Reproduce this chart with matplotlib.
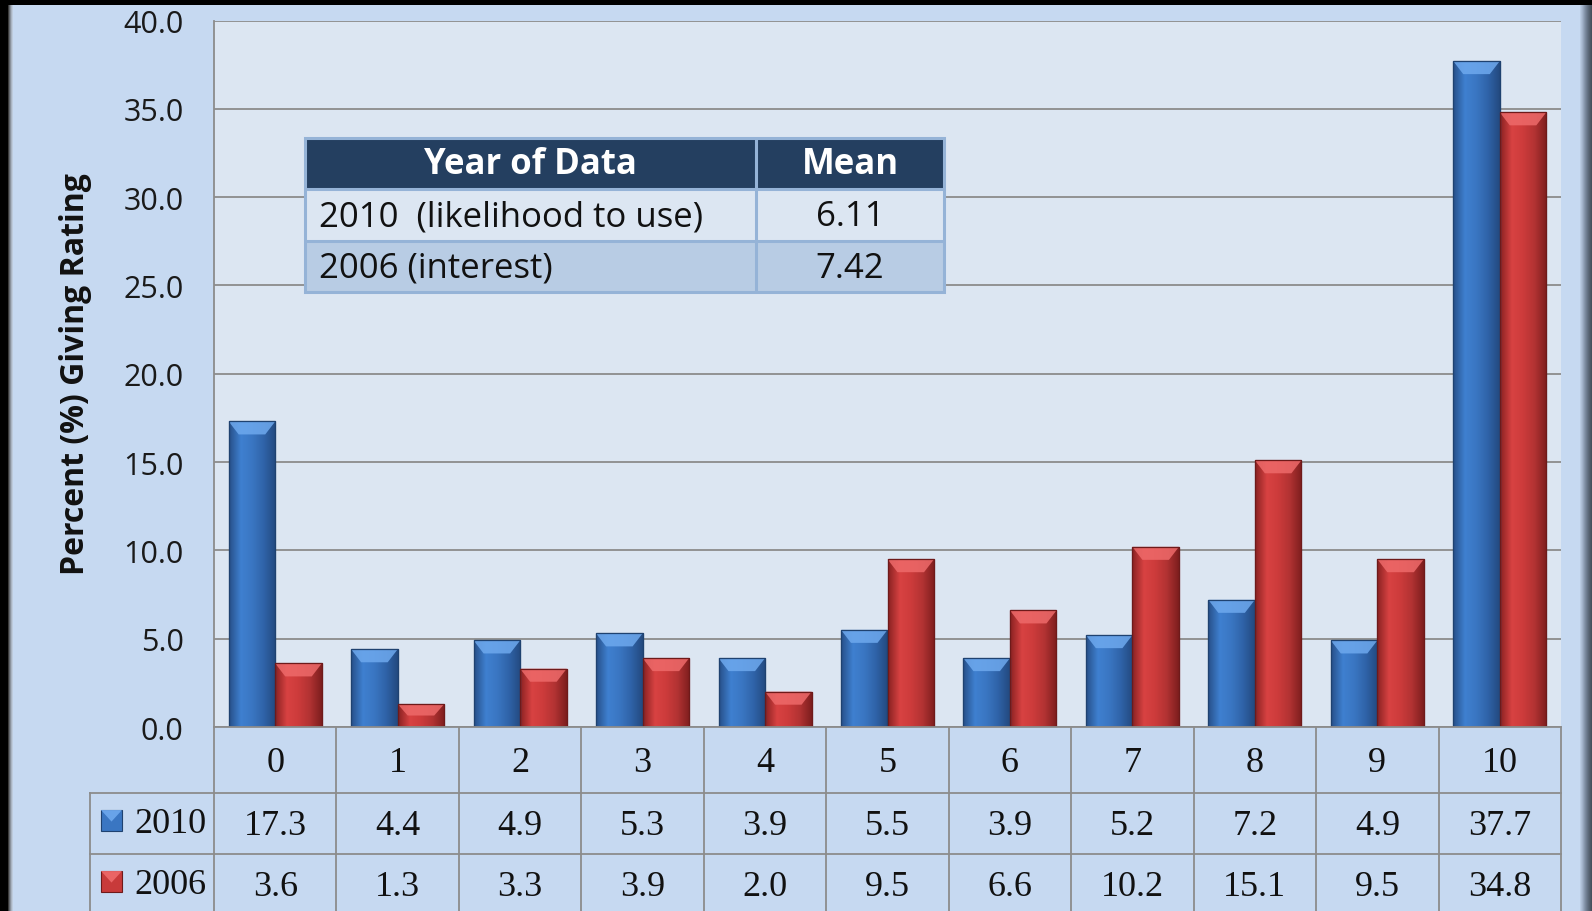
import numpy as np
import matplotlib
matplotlib.use("Agg")
import matplotlib.pyplot as plt
from matplotlib.patches import Rectangle, Polygon
from matplotlib.colors import LinearSegmentedColormap

# ---------------- data ----------------
categories = ['0', '1', '2', '3', '4', '5', '6', '7', '8', '9', '10']
series_names = ['2010', '2006']
values_2010 = [17.3, 4.4, 4.9, 5.3, 3.9, 5.5, 3.9, 5.2, 7.2, 4.9, 37.7]
values_2006 = [3.6, 1.3, 3.3, 3.9, 2.0, 9.5, 6.6, 10.2, 15.1, 9.5, 34.8]
y_ticks = [0, 5, 10, 15, 20, 25, 30, 35, 40]
inset_header = ['Year of Data', 'Mean']
inset_rows = [['2010  (likelihood to use)', '6.11'], ['2006 (interest)', '7.42']]
y_label = 'Percent (%) Giving Rating'

# ---------------- style ----------------
W, H = 1592, 912
FIG_BG = '#C6D9F1'
PLOT_BG = '#DCE6F2'
GRID = '#8C8C8C'
SANS = ['Open Sans', 'DejaVu Sans']
SERIF = ['Liberation Serif', 'DejaVu Serif']

blue_cmap = LinearSegmentedColormap.from_list('b', ['#27508A', '#3F80D0', '#3A76C2', '#2F63A8', '#234A80'])
red_cmap = LinearSegmentedColormap.from_list('r', ['#8A2222', '#D84242', '#CC3B3B', '#B13232', '#7E1E1E'])
blue_cap = '#6EA9EE'
red_cap = '#EE6A6A'

fig = plt.figure(figsize=(W / 100, H / 100), dpi=100, facecolor=FIG_BG)

def fx(px):
    return px / W

def fy(py):
    return 1 - py / H

# plot area in pixels
PL, PR, PT, PB = 214, 1561, 21.5, 728
ax = fig.add_axes([fx(PL), fy(PB), fx(PR - PL), (PB - PT) / H])
ax.set_facecolor(PLOT_BG)
n = len(categories)
ax.set_xlim(-0.5, n - 0.5)
ax.set_ylim(0, 40)
ax.set_yticks(y_ticks)
ax.set_yticklabels([f'{t:.1f}' for t in y_ticks], fontsize=22, family=SANS, color='#1A1A1A')
ax.tick_params(axis='y', length=0, pad=22)
ax.set_xticks([])
ax.yaxis.grid(True, color=GRID, linewidth=1.3)
ax.set_axisbelow(True)
for s in ['top', 'right', 'bottom']:
    ax.spines[s].set_visible(False)
ax.spines['left'].set_color(GRID)
ax.spines['left'].set_linewidth(1.3)

x = np.arange(n)
bw = 0.38
bars_a = ax.bar(x - bw / 2, values_2010, width=bw, color='#3A76C2', edgecolor='#1F4270', linewidth=0.8, zorder=3)
bars_b = ax.bar(x + bw / 2, values_2006, width=bw, color='#C83A3A', edgecolor='#6E1A1A', linewidth=0.8, zorder=3)

grad = np.linspace(0, 1, 64).reshape(1, -1)
px_per_unit = (PB - PT) / 40
cap_h = 13 / px_per_unit
cap_in = 10 / ((PR - PL) / n)

def decorate(bars, cmap, cap):
    for b in bars:
        x0, w, h = b.get_x(), b.get_width(), b.get_height()
        im = ax.imshow(grad, cmap=cmap, extent=[x0, x0 + w, 0, h], aspect='auto', zorder=3.5)
        im.set_clip_path(b)
        ch = min(cap_h, h * 0.5)
        poly = Polygon([[x0, h], [x0 + w, h], [x0 + w - cap_in, h - ch], [x0 + cap_in, h - ch]],
                       closed=True, facecolor=cap, edgecolor='none', alpha=0.85, zorder=3.7)
        ax.add_patch(poly)
        ax.add_patch(Rectangle((x0, 0), w, h, facecolor='none', edgecolor=b.get_edgecolor(), linewidth=0.9, zorder=3.8))

decorate(bars_a, blue_cmap, blue_cap)
decorate(bars_b, red_cmap, red_cap)
ax.set_xlim(-0.5, n - 0.5)
ax.set_ylim(0, 40)

# y label
fig.text(fx(76), fy(374), y_label, rotation=90, ha='center', va='center',
         fontsize=23, fontweight='bold', family=SANS, color='#111111')

# ---------------- bottom data table ----------------
TL = 90
cat_w = (PR - PL) / n
tax = fig.add_axes([fx(TL), 0, fx(PR - TL), (H - PB) / H])
tax.set_xlim(-0.5 - (PL - TL) / cat_w, n - 0.5)
tax.set_ylim(H, PB)
tax.axis('off')
tax.patch.set_visible(False)
lc, lw = GRID, 1.3
ROW1, ROW2 = 794, 855
left_x = -0.5 - (PL - TL) / cat_w
for k in range(n + 1):
    tax.plot([k - 0.5, k - 0.5], [PB, H], color=lc, lw=lw, clip_on=False)
tax.plot([left_x, left_x], [ROW1, H], color=lc, lw=lw, clip_on=False)
for yy in (ROW1, ROW2):
    tax.plot([left_x, n - 0.5], [yy, yy], color=lc, lw=lw, clip_on=False)
tax.plot([-0.5, n - 0.5], [PB, PB], color=lc, lw=lw, clip_on=False)

for i, c in enumerate(categories):
    tax.text(i, 763, c, ha='center', va='center', fontsize=26, family=SERIF, color='#111111')
    tax.text(i, 827, f'{values_2010[i]:.1f}', ha='center', va='center', fontsize=26, family=SERIF, color='#111111')
    tax.text(i, 888, f'{values_2006[i]:.1f}', ha='center', va='center', fontsize=26, family=SERIF, color='#111111')

# legend swatches + labels (in pixel-based figure coords)
def swatch(px, py, base, cap, edge):
    s = 21
    fig.add_artist(Rectangle((fx(px), fy(py + s)), fx(s), s / H, facecolor=base, edgecolor=edge, lw=0.8))
    fig.add_artist(Polygon([[fx(px), fy(py)], [fx(px + s), fy(py)], [fx(px + s / 2), fy(py + s * 0.55)]],
                           closed=True, facecolor=cap, edgecolor='none', alpha=0.9))

swatch(101, 811, '#3A76C2', blue_cap, '#1F4270')
swatch(101, 872, '#C83A3A', red_cap, '#6E1A1A')
fig.text(fx(134), fy(825), series_names[0], ha='left', va='center', fontsize=26, family=SERIF, color='#111111')
fig.text(fx(134), fy(886), series_names[1], ha='left', va='center', fontsize=26, family=SERIF, color='#111111')

# ---------------- inset table ----------------
IL, IR, IT, IB = 305, 944, 139, 293
SPLIT = 756
R1, R2 = 190, 242
iax = fig.add_axes([fx(IL), fy(IB), fx(IR - IL), (IB - IT) / H], zorder=5)
iax.set_xlim(IL, IR)
iax.set_ylim(IB, IT)
iax.axis('off')
border = '#95B3D7'
iax.add_patch(Rectangle((IL, IT), IR - IL, R1 - IT, facecolor='#243F60', edgecolor='none'))
iax.add_patch(Rectangle((IL, R1), IR - IL, R2 - R1, facecolor='#DCE6F2', edgecolor='none'))
iax.add_patch(Rectangle((IL, R2), IR - IL, IB - R2, facecolor='#B8CCE4', edgecolor='none'))
iax.add_patch(Rectangle((IL, IT), IR - IL, IB - IT, facecolor='none', edgecolor=border, lw=2.2, clip_on=False))
iax.plot([SPLIT, SPLIT], [IT, IB], color=border, lw=2.2)
iax.plot([IL, IR], [R1, R1], color=border, lw=2.2)
iax.plot([IL, IR], [R2, R2], color=border, lw=2.2)

iax.text((IL + SPLIT) / 2, (IT + R1) / 2 + 1, inset_header[0], ha='center', va='center', fontsize=25,
         fontweight='bold', family=SANS, color='white')
iax.text((SPLIT + IR) / 2, (IT + R1) / 2 + 1, inset_header[1], ha='center', va='center', fontsize=25,
         fontweight='bold', family=SANS, color='white')
for j, (lab, val) in enumerate(inset_rows):
    yc = [(R1 + R2) / 2, (R2 + IB) / 2][j] + 1
    iax.text(IL + 14, yc, lab, ha='left', va='center', fontsize=25, family=SANS, color='#111111')
    iax.text((SPLIT + IR) / 2, yc, val, ha='center', va='center', fontsize=25, family=SANS, color='#111111')

# ---------------- outer frame ----------------
fig.add_artist(Rectangle((0, fy(6)), 1, 6 / H, facecolor='black', edgecolor='none', zorder=10))
fig.add_artist(Rectangle((0, 0), fx(8), 1, facecolor='black', edgecolor='none', zorder=10))
for i, c in enumerate(['#3a3a3a', '#666a70', '#8a929c', '#a9b4c2', '#bdcbdc']):
    fig.add_artist(Rectangle((fx(8 + i), 0), fx(1), fy(6), facecolor=c, edgecolor='none', zorder=10))
for i, c in enumerate(['#b9cbe2', '#aebfd6', '#a2b3ca', '#95a5bb', '#8797ac', '#7b8a9e', '#707e91', '#657385', '#5c6979', '#54606e', '#4d5865', '#46505c']):
    fig.add_artist(Rectangle((fx(1580 + i), 0), fx(1), fy(6), facecolor=c, edgecolor='none', zorder=10))

fig.savefig('out.png', dpi=100, facecolor=FIG_BG)
